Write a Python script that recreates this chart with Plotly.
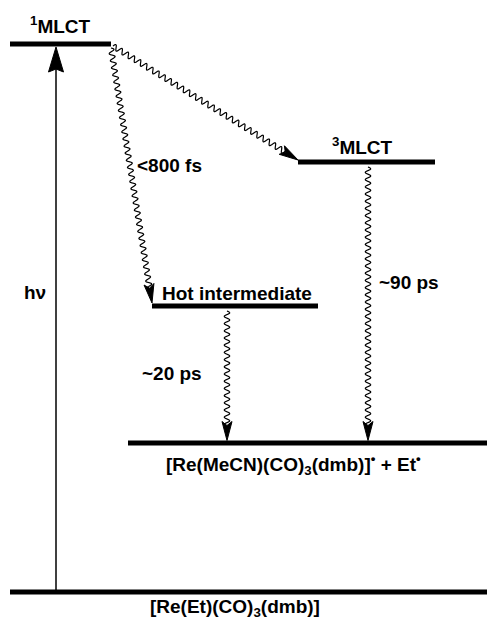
import numpy as np
import plotly.graph_objects as go

# ---------------- data ----------------
level_names = ["1MLCT", "3MLCT", "Hot", "Product", "Ground"]
level_energy = [576, 458, 314, 177, 28]          # arbitrary energy units (higher = up)
level_labels = ["<sup>1</sup>MLCT", "<sup>3</sup>MLCT", "Hot intermediate",
                "[Re(MeCN)(CO)<sub>3</sub>(dmb)]<sup>•</sup> + Et<sup>•</sup>",
                "[Re(Et)(CO)<sub>3</sub>(dmb)]"]

trans_from = ["1MLCT", "1MLCT", "Hot", "3MLCT"]
trans_to = ["Hot", "3MLCT", "Product", "Product"]
trans_labels = ["&lt;800 fs", "", "~20 ps", "~90 ps"]

excitation_label = "hν"

# ---------------- layout helpers (positions / styles) ----------------
W, H = 487, 620
level_span = {"1MLCT": (10, 111), "3MLCT": (298, 435), "Hot": (152, 318),
              "Product": (128, 487), "Ground": (10, 487)}
level_label_pos = {"1MLCT": (60, 19), "3MLCT": (362, 16), "Hot": (237, 13),
                   "Product": (293, -21), "Ground": (235, -16)}
# transition geometry: (x_start, dy_start, x_end, dy_end)
trans_geom = [(111, -4, 152, 3), (113, -2, 298, 2), (227, -5, 227, 2.5), (368, -5, 368, 2.5)]
trans_label_pos = [(169, 455), None, (172, 247), (409, 338)]

E = dict(zip(level_names, level_energy))

fig = go.Figure()
BLACK = "black"

def arrowhead(tip, d, L, hw, notch):
    d = np.asarray(d, float); d /= np.linalg.norm(d)
    p = np.array([-d[1], d[0]])
    t = np.asarray(tip, float)
    pts = [t, t - L * d + hw * p, t - (L - notch) * d, t - L * d - hw * p, t]
    xs = [q[0] for q in pts]; ys = [q[1] for q in pts]
    fig.add_trace(go.Scatter(x=xs, y=ys, mode="lines", fill="toself", fillcolor=BLACK,
                             line=dict(color=BLACK, width=1), hoverinfo="skip", showlegend=False))

def wavy_arrow(p0, p1, amp=2.7, lam=7.2, L=19, hw=5, notch=4):
    p0 = np.asarray(p0, float); p1 = np.asarray(p1, float)
    d = p1 - p0; length = np.linalg.norm(d); u = d / length
    perp = np.array([-u[1], u[0]])
    base_len = length - (L - notch)
    s = np.linspace(0, base_len, int(base_len * 6) + 2)
    off = amp * np.sin(2 * np.pi * s / lam)
    pts = p0[None, :] + s[:, None] * u[None, :] + off[:, None] * perp[None, :]
    fig.add_trace(go.Scatter(x=pts[:, 0], y=pts[:, 1], mode="lines",
                             line=dict(color=BLACK, width=1.2, shape="spline", smoothing=0.6),
                             hoverinfo="skip", showlegend=False))
    arrowhead(p1, u, L, hw, notch)

# levels
for name in level_names:
    x0, x1 = level_span[name]
    fig.add_trace(go.Scatter(x=[x0, x1], y=[E[name], E[name]], mode="lines",
                             line=dict(color=BLACK, width=5), hoverinfo="skip", showlegend=False))

# excitation arrow
hx = 56
fig.add_trace(go.Scatter(x=[hx, hx], y=[E["Ground"] + 2, E["1MLCT"] - 20], mode="lines",
                         line=dict(color=BLACK, width=1.5), hoverinfo="skip", showlegend=False))
arrowhead((hx, E["1MLCT"] - 3), (0, 1), 25, 7.5, 3)

# relaxation (wavy) arrows
for f, t, g in zip(trans_from, trans_to, trans_geom):
    xs, dys, xe, dye = g
    wavy_arrow((xs, E[f] + dys), (xe, E[t] + dye))

font = dict(family="Liberation Sans, Arial, sans-serif", size=19, color=BLACK)
annotations = []
for name, lab in zip(level_names, level_labels):
    cx, dy = level_label_pos[name]
    annotations.append(dict(x=cx, y=E[name] + dy, text="<b>" + lab + "</b>", showarrow=False,
                            xref="x", yref="y", font=font, xanchor="center", yanchor="middle"))
for lab, pos in zip(trans_labels, trans_label_pos):
    if pos is None or not lab:
        continue
    annotations.append(dict(x=pos[0], y=pos[1], text="<b>" + lab + "</b>", showarrow=False,
                            xref="x", yref="y", font=font, xanchor="center", yanchor="middle"))
annotations.append(dict(x=35, y=328, text="<b>" + excitation_label + "</b>", showarrow=False,
                        xref="x", yref="y", font=font, xanchor="center", yanchor="middle"))

fig.update_layout(
    width=W, height=H, margin=dict(l=0, r=0, t=0, b=0),
    paper_bgcolor="white", plot_bgcolor="white",
    xaxis=dict(range=[0, W], visible=False, fixedrange=True),
    yaxis=dict(range=[0, H], visible=False, fixedrange=True),
    annotations=annotations, showlegend=False,
)
fig.write_html("out.html")
